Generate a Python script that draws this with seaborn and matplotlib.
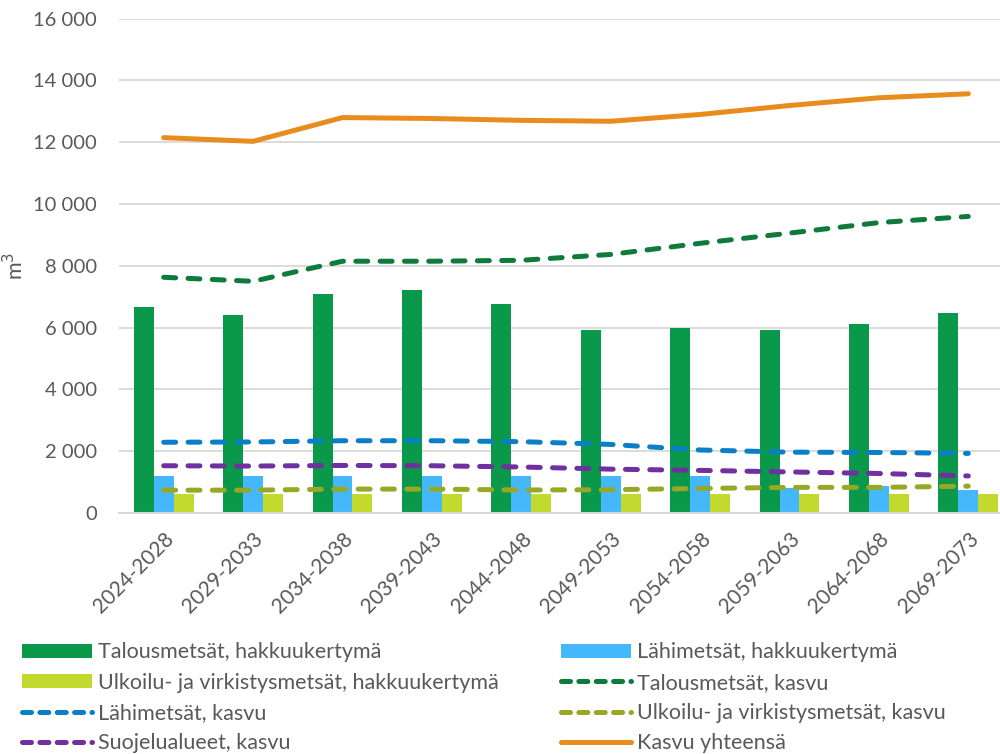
import numpy as np
import pandas as pd
import matplotlib
matplotlib.use('Agg')
import matplotlib.pyplot as plt
import seaborn as sns
from matplotlib.ticker import FuncFormatter
from matplotlib.patches import Patch
from matplotlib.lines import Line2D

periods = ['2024-2028', '2029-2033', '2034-2038', '2039-2043', '2044-2048',
           '2049-2053', '2054-2058', '2059-2063', '2064-2068', '2069-2073']

# hakkuukertymä (bars)
talous_hakkuu = [6660, 6400, 7090, 7210, 6780, 5920, 6000, 5920, 6130, 6470]
lahi_hakkuu = [1200, 1200, 1200, 1200, 1200, 1200, 1200, 800, 860, 740]
ulkoilu_hakkuu = [610, 610, 610, 610, 610, 610, 610, 610, 610, 610]

# kasvu (lines)
talous_kasvu = [7630, 7500, 8150, 8150, 8180, 8370, 8730, 9060, 9400, 9600]
lahi_kasvu = [2290, 2300, 2340, 2340, 2310, 2220, 2040, 1970, 1960, 1930]
ulkoilu_kasvu = [740, 740, 775, 775, 745, 755, 795, 830, 830, 870]
suojelu_kasvu = [1530, 1520, 1540, 1530, 1490, 1420, 1380, 1330, 1280, 1200]
kasvu_yht = [12150, 12030, 12800, 12770, 12710, 12680, 12900, 13190, 13440, 13570]

bar_names = ['Talousmetsät, hakkuukertymä', 'Lähimetsät, hakkuukertymä',
             'Ulkoilu- ja virkistysmetsät, hakkuukertymä']
bar_colors = ['#0A994A', '#45B8FC', '#C2D92E']

TEXT = '#595959'

sns.set_style('white')
plt.rcParams['font.family'] = ['Lato', 'DejaVu Sans']
plt.rcParams['text.color'] = TEXT
plt.rcParams['lines.scale_dashes'] = False

fig = plt.figure(figsize=(10, 7.54), dpi=100)
ax = fig.add_axes([0.119, 0.3196, 0.894, 0.6556])

bars = pd.DataFrame({
    'period': periods * 3,
    'series': sum([[n] * len(periods) for n in bar_names], []),
    'value': talous_hakkuu + lahi_hakkuu + ulkoilu_hakkuu,
})
sns.barplot(data=bars, x='period', y='value', hue='series', hue_order=bar_names,
            palette=bar_colors, saturation=1, width=0.67, linewidth=0,
            legend=False, ax=ax)

x = np.arange(len(periods))
dash = (8.6, 8.9)
lines = [
    (talous_kasvu, '#0E7A3C', 'Talousmetsät, kasvu', dash),
    (lahi_kasvu, '#0A7FC7', 'Lähimetsät, kasvu', dash),
    (ulkoilu_kasvu, '#97A824', 'Ulkoilu- ja virkistysmetsät, kasvu', dash),
    (suojelu_kasvu, '#7030A0', 'Suojelualueet, kasvu', dash),
    (kasvu_yht, '#E88C1E', 'Kasvu yhteensä', None),
]
for vals, col, name, ds in lines:
    sns.lineplot(x=x, y=vals, color=col, lw=3.6, ax=ax)
    ln = ax.lines[-1]
    ln.set_solid_capstyle('round')
    ln.set_dash_capstyle('round')
    if ds is not None:
        ln.set_dashes(ds)

ax.set_xlim(-0.5, len(periods) - 0.5)
ax.set_ylim(0, 16000)
ax.set_yticks(range(0, 16001, 2000))
ax.yaxis.set_major_formatter(FuncFormatter(lambda v, p: f'{int(v):,}'.replace(',', ' ')))
ax.grid(axis='y', color='#D9D9D9', lw=1.3)
ax.set_axisbelow(True)
for s in ['left', 'right', 'top']:
    ax.spines[s].set_visible(False)
ax.spines['bottom'].set_color('#D9D9D9')
ax.spines['bottom'].set_linewidth(1.5)
ax.tick_params(axis='both', length=0, labelcolor=TEXT)
ax.tick_params(axis='y', pad=16, labelsize=14.5)
ax.tick_params(axis='x', pad=11, labelsize=15)
plt.setp(ax.get_xticklabels(), rotation=45, ha='right', rotation_mode='anchor')
ax.set_xlabel('')
ax.set_ylabel('m$^3$', fontsize=15.5, color=TEXT, labelpad=4)


def line_handle(col, ds):
    h = Line2D([], [], color=col, lw=3.6, solid_capstyle='round', dash_capstyle='round')
    if ds is not None:
        h.set_dashes((6.5, 6.0))
    return h


bar_h = [Patch(facecolor=c, edgecolor='none') for c in bar_colors]
line_h = [line_handle(c, d) for _, c, _, d in lines]
line_n = [n for _, _, n, _ in lines]

col1 = [bar_h[0], bar_h[2], line_h[1], line_h[3]]
col1_n = [bar_names[0], bar_names[2], line_n[1], line_n[3]]
col2 = [bar_h[1], line_h[0], line_h[2], line_h[4]]
col2_n = [bar_names[1], line_n[0], line_n[2], line_n[4]]

kw = dict(loc='upper left', frameon=False, fontsize=15.5, handlelength=3.25,
          handleheight=0.65, handletextpad=0.3, labelspacing=0.48,
          borderaxespad=0, borderpad=0, labelcolor=TEXT)
fig.legend(col1, col1_n, bbox_to_anchor=(0.022, 0.148), **kw)
fig.legend(col2, col2_n, bbox_to_anchor=(0.561, 0.148), **kw)

fig.savefig('out.png', dpi=100)
